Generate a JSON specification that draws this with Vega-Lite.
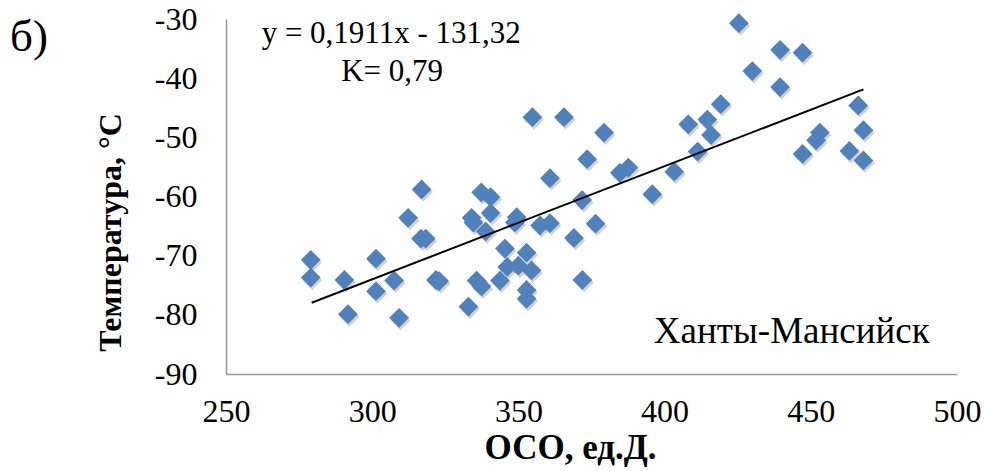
{
  "$schema": "https://vega.github.io/schema/vega-lite/v6.json",
  "autosize": "none",
  "width": 731,
  "height": 355,
  "padding": {"left": 226, "top": 19, "right": 27, "bottom": 97},
  "background": "white",
  "config": {"view": {"stroke": null}, "font": "Liberation Serif"},
  "datasets": {
    "pts": [
      {"oco": 279.0, "t": -70.7}, {"oco": 279.0, "t": -73.7}, {"oco": 290.5, "t": -74.1}, {"oco": 291.7, "t": -79.9},
      {"oco": 301.3, "t": -70.5}, {"oco": 301.3, "t": -76.0}, {"oco": 307.5, "t": -74.2}, {"oco": 309.2, "t": -80.5},
      {"oco": 312.3, "t": -63.6}, {"oco": 316.9, "t": -58.8}, {"oco": 316.7, "t": -67.1}, {"oco": 318.3, "t": -67.1},
      {"oco": 321.8, "t": -74.1}, {"oco": 322.9, "t": -74.3}, {"oco": 332.9, "t": -78.6}, {"oco": 334.0, "t": -63.6},
      {"oco": 334.6, "t": -64.4}, {"oco": 337.3, "t": -59.3}, {"oco": 340.5, "t": -60.1}, {"oco": 340.5, "t": -62.8},
      {"oco": 338.8, "t": -65.9}, {"oco": 335.7, "t": -74.2}, {"oco": 337.4, "t": -75.2}, {"oco": 343.7, "t": -74.2},
      {"oco": 345.4, "t": -68.8}, {"oco": 346.2, "t": -71.9}, {"oco": 350.0, "t": -71.7}, {"oco": 352.8, "t": -69.5},
      {"oco": 354.5, "t": -72.5}, {"oco": 352.8, "t": -75.8}, {"oco": 352.8, "t": -77.3}, {"oco": 348.8, "t": -64.4},
      {"oco": 349.4, "t": -63.5}, {"oco": 357.4, "t": -64.9}, {"oco": 360.8, "t": -64.5}, {"oco": 360.8, "t": -56.9},
      {"oco": 354.8, "t": -46.6}, {"oco": 365.6, "t": -46.6}, {"oco": 369.0, "t": -67.0}, {"oco": 371.9, "t": -74.1},
      {"oco": 371.8, "t": -60.6}, {"oco": 373.5, "t": -53.7}, {"oco": 376.4, "t": -64.6}, {"oco": 379.3, "t": -49.2},
      {"oco": 384.7, "t": -56.0}, {"oco": 387.6, "t": -55.1}, {"oco": 403.3, "t": -55.8}, {"oco": 395.8, "t": -59.6},
      {"oco": 411.3, "t": -52.4}, {"oco": 408.1, "t": -47.8}, {"oco": 414.6, "t": -47.0}, {"oco": 415.9, "t": -49.6},
      {"oco": 419.2, "t": -44.4}, {"oco": 430.0, "t": -38.8}, {"oco": 425.4, "t": -30.7}, {"oco": 439.5, "t": -35.2},
      {"oco": 439.5, "t": -41.5}, {"oco": 447.2, "t": -35.7}, {"oco": 447.2, "t": -52.8}, {"oco": 451.8, "t": -50.5},
      {"oco": 453.1, "t": -49.2}, {"oco": 463.2, "t": -52.3}, {"oco": 466.2, "t": -44.6}, {"oco": 468.0, "t": -48.8},
      {"oco": 468.0, "t": -53.9}
    ],
    "trend": [
      {"oco": 279.3, "t": -77.95},
      {"oco": 468.0, "t": -41.89}
    ],
    "labels": [
      {"oco": 306.5, "t": -32.6, "txt": "y = 0,1911x - 131,32", "size": 31},
      {"oco": 306.8, "t": -38.9, "txt": "K= 0,79", "size": 31},
      {"oco": 443.5, "t": -82.9, "txt": "Ханты-Мансийск", "size": 37},
      {"oco": 182.6, "t": -33.0, "txt": "б)", "size": 45}
    ]
  },
  "layer": [
    {
      "data": {"name": "pts"},
      "mark": {"type": "point", "shape": "diamond", "filled": true, "size": 390, "color": "#000000", "opacity": 0.18, "xOffset": 1.5, "yOffset": 2.5},
      "encoding": {
        "x": {"field": "oco", "type": "quantitative", "scale": {"domain": [250, 500], "nice": false, "zero": false},
          "axis": {"values": [250, 300, 350, 400, 450, 500], "title": "ОСО, ед.Д.", "grid": false, "ticks": false, "labelFlush": false,
            "labelExpr": "toString(datum.value)",
            "domainColor": "#999999", "domainWidth": 1.5, "labelFont": "Liberation Serif", "labelFontSize": 32, "labelColor": "#000000",
            "labelPadding": 22, "titleFont": "Liberation Serif", "titleFontSize": 35, "titleFontWeight": "bold", "titleColor": "#000000", "titlePadding": 3, "titleX": 344}},
        "y": {"field": "t", "type": "quantitative", "scale": {"domain": [-90, -30], "nice": false, "zero": false},
          "axis": {"values": [-90, -80, -70, -60, -50, -40, -30], "title": "Температура, °C", "grid": false, "ticks": false, "labelFlush": false,
            "labelExpr": "toString(datum.value)",
            "domainColor": "#999999", "domainWidth": 1.5, "labelFont": "Liberation Serif", "labelFontSize": 32, "labelColor": "#000000",
            "labelPadding": 29, "titleFont": "Liberation Serif", "titleFontSize": 32, "titleFontWeight": "bold", "titleColor": "#000000", "titlePadding": 27, "titleY": 213}}
      }
    },
    {
      "data": {"name": "pts"},
      "mark": {"type": "point", "shape": "diamond", "filled": true, "size": 390, "color": "#4F81BD", "opacity": 1},
      "encoding": {
        "x": {"field": "oco", "type": "quantitative"},
        "y": {"field": "t", "type": "quantitative"}
      }
    },
    {
      "data": {"name": "trend"},
      "mark": {"type": "line", "color": "#000000", "strokeWidth": 2},
      "encoding": {
        "x": {"field": "oco", "type": "quantitative"},
        "y": {"field": "t", "type": "quantitative"}
      }
    },
    {
      "data": {"name": "labels"},
      "mark": {"type": "text", "font": "Liberation Serif", "color": "#000000", "align": "center", "baseline": "middle", "clip": false},
      "encoding": {
        "x": {"field": "oco", "type": "quantitative"},
        "y": {"field": "t", "type": "quantitative"},
        "text": {"field": "txt"},
        "size": {"field": "size", "type": "quantitative", "scale": null}
      }
    }
  ]
}
